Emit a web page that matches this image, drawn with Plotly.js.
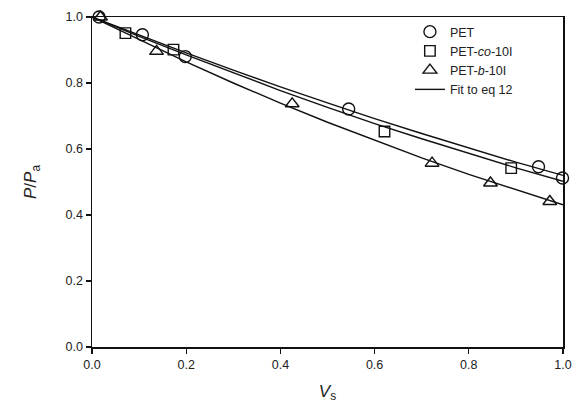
<!DOCTYPE html>
<html>
<head>
<meta charset="utf-8">
<script src="https://cdn.plot.ly/plotly-3.0.1.min.js"></script>
<style>html,body{margin:0;padding:0;background:#fff;}#chart{width:576px;height:408px;}</style>
</head>
<body>
<div id="chart"></div>
<script>
const petX   = [0.015, 0.107, 0.198, 0.545, 0.948, 0.999];
const petY   = [1.000, 0.946, 0.880, 0.721, 0.546, 0.512];
const coX    = [-0.008, 0.071, 0.173, 0.621, 0.890];
const coY    = [1.000, 0.951, 0.901, 0.653, 0.542];
const bX     = [0.018, 0.137, 0.425, 0.722, 0.846, 0.972];
const bY     = [1.000, 0.896, 0.737, 0.557, 0.497, 0.441];

// Fit curves
const fitX    = [0, 0.1, 0.2, 0.3, 0.4, 0.5, 0.6, 0.7, 0.8, 0.9, 1.0];
const fitPetY = [1.000, 0.945, 0.891, 0.839, 0.788, 0.740, 0.692, 0.647, 0.603, 0.560, 0.520];
const fitCoY  = [1.000, 0.941, 0.885, 0.830, 0.777, 0.726, 0.677, 0.631, 0.586, 0.543, 0.502];
const fitBY   = [1.000, 0.931, 0.864, 0.800, 0.739, 0.681, 0.626, 0.573, 0.523, 0.476, 0.431];

const names = ['PET', 'PET-<i>co</i>-10I', 'PET-<i>b</i>-10I', 'Fit to eq 12'];
const tickVals = [0, 0.2, 0.4, 0.6, 0.8, 1.0];
const tickText = ['0.0', '0.2', '0.4', '0.6', '0.8', '1.0'];

const mk = (sym, size) => ({symbol: sym, size: size, color: 'rgba(255,255,255,0)', line: {color: '#111', width: 1.4}});
const lineStyle = {color: '#111', width: 1.4};

const traces = [
  {x: fitX, y: fitPetY, mode: 'lines', line: lineStyle, name: names[3], showlegend: false},
  {x: fitX, y: fitCoY,  mode: 'lines', line: lineStyle, name: names[3], showlegend: false},
  {x: fitX, y: fitBY,   mode: 'lines', line: lineStyle, name: names[3], showlegend: false},
  {x: petX, y: petY, mode: 'markers', marker: mk('circle', 12), name: names[0], cliponaxis: false},
  {x: coX,  y: coY,  mode: 'markers', marker: mk('square', 10.5), name: names[1], cliponaxis: false},
  {x: bX,   y: bY,   mode: 'markers', marker: mk('triangle-up', 12), name: names[2], cliponaxis: false},
  {x: [null], y: [null], mode: 'lines', line: lineStyle, name: names[3], showlegend: true}
];

const axisCommon = {
  range: [0, 1],
  tickvals: tickVals,
  ticktext: tickText,
  ticks: 'outside',
  ticklen: 5,
  tickwidth: 1.4,
  tickcolor: '#111',
  showline: true,
  linecolor: '#111',
  linewidth: 1.5,
  mirror: true,
  showgrid: false,
  zeroline: false,
  tickfont: {family: 'Liberation Sans, Arial, sans-serif', size: 12.5, color: '#222'}
};

const layout = {
  width: 576, height: 408,
  margin: {l: 92, r: 13, t: 17, b: 61},
  paper_bgcolor: '#fff', plot_bgcolor: '#fff',
  showlegend: true,
  legend: {
    x: 0.675, y: 1.0, xanchor: 'left', yanchor: 'top',
    bgcolor: 'rgba(0,0,0,0)', borderwidth: 0,
    font: {family: 'Liberation Sans, Arial, sans-serif', size: 12.5, color: '#222'},
    tracegroupgap: 0, itemwidth: 30
  },
  xaxis: Object.assign({}, axisCommon, {
    title: {text: '<i>V</i><sub>s</sub>', font: {family: 'Liberation Sans, Arial, sans-serif', size: 17, color: '#222'}, standoff: 14}
  }),
  yaxis: Object.assign({}, axisCommon, {
    title: {text: '<i>P</i>/<i>P</i><sub>a</sub>', font: {family: 'Liberation Sans, Arial, sans-serif', size: 17, color: '#222'}, standoff: 24}
  })
};

Plotly.newPlot('chart', traces, layout, {staticPlot: true, displayModeBar: false});
</script>
</body>
</html>
